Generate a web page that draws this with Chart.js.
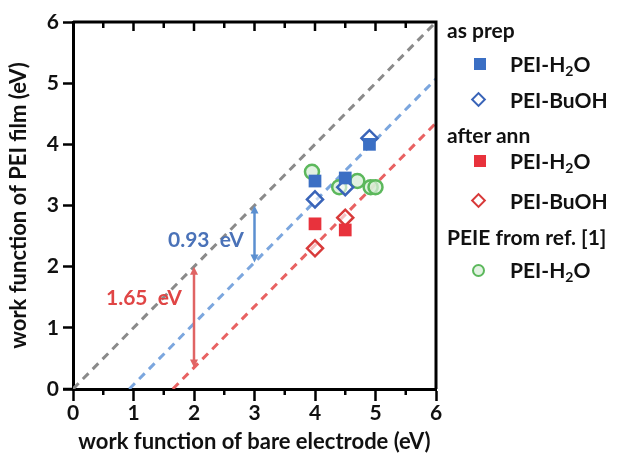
<!DOCTYPE html>
<html>
<head>
<meta charset="utf-8">
<script src="https://cdn.jsdelivr.net/npm/chart.js@4"></script>
<style>
  body { margin: 0; background: #fff; }
  #wrap { position: relative; width: 619px; height: 459px; font-family: Lato, "Open Sans", sans-serif; font-weight: bold; }
  #wrap canvas { position: absolute; left: 0; top: 0; }
  .lg { position: absolute; font-size: 21px; color: #111; white-space: nowrap; line-height: 1; }
  .mk { position: absolute; box-sizing: border-box; }
  .note { position: absolute; font-size: 21px; white-space: nowrap; line-height: 1; }
  sub { font-size: 14px; vertical-align: -4px; line-height: 0; }
</style>
</head>
<body>
<div id="wrap">
  <canvas id="chartWF" width="619" height="459"></canvas>

  <div class="lg" style="left:447px; top:19px;">as prep</div>
  <div class="mk" style="left:474px; top:58px; width:12px; height:12px; background:#3b6fc4;"></div>
  <div class="lg" style="left:510px; top:53px;">PEI-H<sub>2</sub>O</div>
  <div class="mk" style="left:473px; top:94px; width:11px; height:11px; border:2px solid #3a64b8; transform:rotate(45deg); background:#fff;"></div>
  <div class="lg" style="left:510px; top:89px;">PEI-BuOH</div>

  <div class="lg" style="left:447px; top:124px;">after ann</div>
  <div class="mk" style="left:474px; top:155px; width:12px; height:12px; background:#e8323c;"></div>
  <div class="lg" style="left:510px; top:150px;">PEI-H<sub>2</sub>O</div>
  <div class="mk" style="left:473px; top:195px; width:11px; height:11px; border:2px solid #d83a3a; transform:rotate(45deg); background:#fff;"></div>
  <div class="lg" style="left:510px; top:190px;">PEI-BuOH</div>

  <div class="lg" style="left:447px; top:226px;">PEIE from ref. [1]</div>
  <div class="mk" style="left:472px; top:264px; width:13px; height:13px; border:2px solid #5cb85c; border-radius:50%; background:#e3f3e3;"></div>
  <div class="lg" style="left:510px; top:259px;">PEI-H<sub>2</sub>O</div>

  <div class="note" style="left:168px; top:228px; color:#4a72b8;">0.93&nbsp; eV</div>
  <div class="note" style="left:106px; top:286px; color:#e04545;">1.65&nbsp; eV</div>
</div>

<script>
// data (work function in eV)
const asPrepH2OX = [4.0, 4.5, 4.9];
const asPrepH2OY = [3.4, 3.45, 4.0];
const asPrepBuOHX = [4.0, 4.5, 4.9];
const asPrepBuOHY = [3.1, 3.3, 4.1];

const annH2OX = [4.0, 4.5];
const annH2OY = [2.7, 2.6];
const annBuOHX = [4.0, 4.5];
const annBuOHY = [2.3, 2.8];

const peieX = [3.95, 4.4, 4.7, 4.92, 5.0];
const peieY = [3.55, 3.3, 3.4, 3.3, 3.3];

// dashed guide lines, end points
const identX = [0, 6];
const identY = [0, 6];
const blueShiftX = [0.93, 6];
const blueShiftY = [0, 5.07];
const redShiftX = [1.65, 6];
const redShiftY = [0, 4.35];

// double arrows showing the shifts
const blueArrowX = 3;
const blueArrowY = [3, 2.07];
const redArrowX = 2;
const redArrowY = [2, 0.35];

const axisTicks = [0, 1, 2, 3, 4, 5, 6];
const halfTicks = [0.5, 1.5, 2.5, 3.5, 4.5, 5.5];

const FONT = "Lato, 'Open Sans', sans-serif";

function pts(xs, ys) {
  return xs.map((x, i) => ({ x: x, y: ys[i] }));
}

function dashed(xs, ys, color) {
  return {
    type: "line",
    data: pts(xs, ys),
    borderColor: color,
    borderWidth: 3,
    borderDash: [8, 6],
    pointRadius: 0,
    fill: false,
    order: 10,
  };
}

// frame, extra ticks and shift arrows
const framePlugin = {
  id: "frame",
  afterDatasetsDraw(chart) {
    const { ctx, chartArea, scales } = chart;
    const xs = scales.x;
    const ys = scales.y;
    ctx.save();
    ctx.strokeStyle = "#000";
    ctx.lineWidth = 3;
    ctx.beginPath();
    ctx.moveTo(chartArea.left, chartArea.top);
    ctx.lineTo(chartArea.right, chartArea.top);
    ctx.lineTo(chartArea.right, chartArea.bottom);
    ctx.stroke();

    ctx.lineWidth = 2.5;
    ctx.beginPath();
    // top axis, inward ticks
    axisTicks.forEach((v) => {
      if (v === 0 || v === 6) return;
      const px = xs.getPixelForValue(v);
      ctx.moveTo(px, chartArea.top);
      ctx.lineTo(px, chartArea.top + 9);
    });
    halfTicks.forEach((v) => {
      const px = xs.getPixelForValue(v);
      ctx.moveTo(px, chartArea.top);
      ctx.lineTo(px, chartArea.top + 6);
      // bottom minor ticks
      ctx.moveTo(px, chartArea.bottom);
      ctx.lineTo(px, chartArea.bottom + 6);
    });
    // small overhang of x axis left of the y axis
    ctx.moveTo(chartArea.left - 10, chartArea.bottom);
    ctx.lineTo(chartArea.left, chartArea.bottom);
    ctx.stroke();

    drawArrow(ctx, xs.getPixelForValue(blueArrowX), ys.getPixelForValue(blueArrowY[0]), ys.getPixelForValue(blueArrowY[1]), "#5b8fd0");
    drawArrow(ctx, xs.getPixelForValue(redArrowX), ys.getPixelForValue(redArrowY[0]), ys.getPixelForValue(redArrowY[1]), "#e06464");
    ctx.restore();
  },
};

function drawArrow(ctx, x, y0, y1, color) {
  const head = 7;
  ctx.strokeStyle = color;
  ctx.fillStyle = color;
  ctx.lineWidth = 2.5;
  ctx.beginPath();
  ctx.moveTo(x, y0 + head);
  ctx.lineTo(x, y1 - head);
  ctx.stroke();
  ctx.beginPath();
  ctx.moveTo(x, y0);
  ctx.lineTo(x - 4, y0 + head + 1);
  ctx.lineTo(x + 4, y0 + head + 1);
  ctx.closePath();
  ctx.fill();
  ctx.beginPath();
  ctx.moveTo(x, y1);
  ctx.lineTo(x - 4, y1 - head - 1);
  ctx.lineTo(x + 4, y1 - head - 1);
  ctx.closePath();
  ctx.fill();
}

new Chart(document.getElementById("chartWF"), {
  type: "scatter",
  data: {
    datasets: [
      dashed(identX, identY, "#8a8a8a"),
      dashed(blueShiftX, blueShiftY, "#7ba6de"),
      dashed(redShiftX, redShiftY, "#e86262"),
      {
        label: "as prep PEI-H2O",
        data: pts(asPrepH2OX, asPrepH2OY),
        pointStyle: "rect",
        pointRadius: 9,
        backgroundColor: "#3b6fc4",
        borderColor: "#3b6fc4",
        borderWidth: 0,
      },
      {
        label: "as prep PEI-BuOH",
        data: pts(asPrepBuOHX, asPrepBuOHY),
        pointStyle: "rectRot",
        pointRadius: 8,
        backgroundColor: "rgba(255,255,255,0.6)",
        borderColor: "#3a64b8",
        borderWidth: 2.5,
      },
      {
        label: "after ann PEI-H2O",
        data: pts(annH2OX, annH2OY),
        pointStyle: "rect",
        pointRadius: 9,
        backgroundColor: "#e8323c",
        borderColor: "#e8323c",
        borderWidth: 0,
      },
      {
        label: "after ann PEI-BuOH",
        data: pts(annBuOHX, annBuOHY),
        pointStyle: "rectRot",
        pointRadius: 8,
        backgroundColor: "rgba(255,255,255,0.6)",
        borderColor: "#d83a3a",
        borderWidth: 2.5,
      },
      {
        label: "PEIE from ref. [1] PEI-H2O",
        data: pts(peieX, peieY),
        pointStyle: "circle",
        pointRadius: 7,
        backgroundColor: "rgba(215,238,215,0.75)",
        borderColor: "#5cb85c",
        borderWidth: 2.5,
      },
    ],
  },
  options: {
    responsive: false,
    animation: false,
    layout: { padding: { left: 0, top: 22, right: 183, bottom: 0 } },
    plugins: { legend: { display: false }, tooltip: { enabled: false } },
    scales: {
      x: {
        type: "linear",
        min: 0,
        max: 6,
        afterFit: (s) => { s.height = 70; },
        afterBuildTicks: (s) => { s.ticks = axisTicks.map((v) => ({ value: v })); },
        ticks: { color: "#111", padding: 0, font: { family: FONT, size: 21, weight: "bold" } },
        grid: { drawOnChartArea: false, tickLength: 12, tickWidth: 2.5, tickColor: "#000" },
        border: { color: "#000", width: 3 },
        title: {
          display: true,
          text: "work function of bare electrode (eV)",
          color: "#111",
          padding: { top: 0, bottom: 4 },
          font: { family: FONT, size: 22, weight: "bold" },
        },
      },
      y: {
        type: "linear",
        min: 0,
        max: 6,
        afterFit: (s) => { s.width = 73; },
        afterBuildTicks: (s) => { s.ticks = axisTicks.map((v) => ({ value: v })); },
        ticks: { color: "#111", padding: 4, font: { family: FONT, size: 21, weight: "bold" } },
        grid: { drawOnChartArea: false, tickLength: 10, tickWidth: 2.5, tickColor: "#000" },
        border: { color: "#000", width: 3 },
        title: {
          display: true,
          text: "work function of PEI film (eV)",
          color: "#111",
          padding: { top: 6, bottom: 0 },
          font: { family: FONT, size: 22, weight: "bold" },
        },
      },
    },
  },
  plugins: [framePlugin],
});
</script>
</body>
</html>
